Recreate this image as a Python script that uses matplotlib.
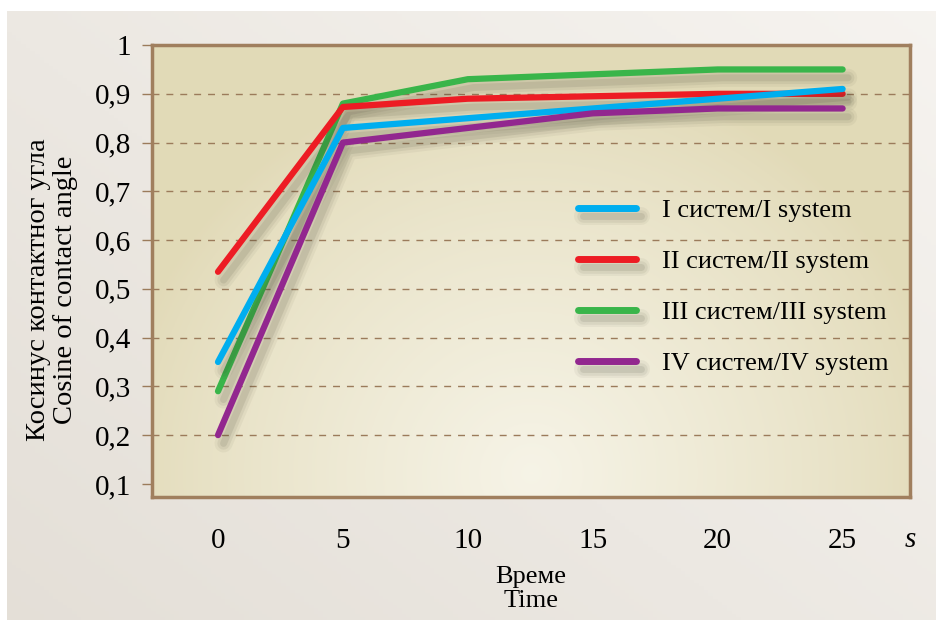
import numpy as np
import matplotlib
matplotlib.use("Agg")
import matplotlib.pyplot as plt
import matplotlib.patheffects as pe

plt.rcParams['font.family'] = ['Liberation Serif', 'DejaVu Serif']

# Data
time_s = [0, 5, 10, 15, 20, 25]
sys_i = [0.35, 0.83, 0.85, 0.87, 0.89, 0.91]
sys_ii = [0.535, 0.873, 0.89, 0.895, 0.90, 0.90]
sys_iii = [0.29, 0.88, 0.93, 0.94, 0.95, 0.95]
sys_iv = [0.20, 0.80, 0.83, 0.86, 0.87, 0.87]

labels = ["I систем/I system", "II систем/II system",
          "III систем/III system", "IV систем/IV system"]
colors = ["#00aeef", "#ed1c24", "#39b54a", "#92278f"]

y_ticks = [0.1, 0.2, 0.3, 0.4, 0.5, 0.6, 0.7, 0.8, 0.9, 1.0]
y_tick_labels = ["0,1", "0,2", "0,3", "0,4", "0,5", "0,6", "0,7", "0,8", "0,9", "1"]
grid_levels = [0.2, 0.3, 0.4, 0.5, 0.6, 0.7, 0.8, 0.9]

fig = plt.figure(figsize=(9.42, 6.26), dpi=100)
fig.patch.set_facecolor("white")

# Outer light background with a soft gradient
bg = fig.add_axes([0.007, 0.01, 0.986, 0.972], zorder=-10)
gx, gy = np.meshgrid(np.linspace(0, 1, 200), np.linspace(0, 1, 200))
light = np.clip(0.55 * gx + 0.45 * (1 - gy), 0, 1)
c0 = np.array([0.895, 0.875, 0.845])
c1 = np.array([0.965, 0.955, 0.94])
bg.imshow(c0 + (c1 - c0) * light[..., None], extent=[0, 1, 0, 1], aspect="auto", origin="upper")
bg.axis("off")

ax = fig.add_axes([0.1614, 0.206, 0.8047, 0.722])

# Plot area gradient (olive beige, lighter in the middle)
px, py = np.meshgrid(np.linspace(0, 1, 300), np.linspace(0, 1, 200))
d = np.sqrt(((px - 0.5) / 0.55) ** 2 + ((py - 0.95) / 0.9) ** 2)
w = np.clip(1 - d, 0, 1) ** 0.8
p0 = np.array([0.885, 0.855, 0.72])
p1 = np.array([0.965, 0.955, 0.905])
ax.imshow(p0 + (p1 - p0) * w[..., None], extent=[0, 1, 0, 1], transform=ax.transAxes,
          aspect="auto", origin="upper", zorder=0)

ax.set_xlim(-2.64, 27.7)
ax.set_ylim(0.073, 1.0)

for lvl in grid_levels:
    ax.axhline(lvl, color="#9b7b5b", lw=1.0, ls=(0, (5, 5)), zorder=1)

# soft drop shadow built from a few stacked translucent strokes
shadow = [pe.SimpleLineShadow(offset=(4, -6), shadow_color="#3a3a2a", alpha=0.05, linewidth=13),
          pe.SimpleLineShadow(offset=(4, -6), shadow_color="#3a3a2a", alpha=0.07, linewidth=9),
          pe.SimpleLineShadow(offset=(4, -6), shadow_color="#3a3a2a", alpha=0.10, linewidth=5),
          pe.Normal()]
series = [sys_i, sys_ii, sys_iii, sys_iv]
zorders = [5, 4, 3, 6]
for vals, lab, col, z in zip(series, labels, colors, zorders):
    ax.plot(time_s, vals, color=col, lw=4.5, solid_capstyle="round",
            solid_joinstyle="round", label=lab, zorder=z, path_effects=shadow)

for side in ax.spines.values():
    side.set_color("#a07f5e")
    side.set_linewidth(2.5)

ax.set_yticks(y_ticks)
ax.set_yticklabels(y_tick_labels)
ax.set_xticks(time_s)
ax.set_xticklabels([str(t) for t in time_s])
ax.tick_params(axis="y", length=7, width=1, color="#9b7b5b", labelsize=21, pad=8)
ax.tick_params(axis="x", length=0, labelsize=21, pad=22)

ax.set_ylabel("Косинус контактног угла\nCosine of contact angle", fontsize=20.5,
              linespacing=1.1)
ax.yaxis.set_label_coords(-0.098, 0.458)
ax.set_xlabel("Време\nTime", fontsize=19, linespacing=1.15)
ax.xaxis.set_label_coords(0.5, -0.152)
ax.text(1.0, -0.095, "s", transform=ax.transAxes, fontsize=21, style="italic",
        ha="center", va="center")

leg = ax.legend(loc="center left", bbox_to_anchor=(0.53, 0.465), frameon=False,
                fontsize=19, handlelength=2.2, handletextpad=1.0, labelspacing=1.05)
for line in leg.get_lines():
    line.set_linewidth(5)
    line.set_path_effects(shadow)

fig.savefig("out.png", dpi=100, facecolor=fig.get_facecolor())
